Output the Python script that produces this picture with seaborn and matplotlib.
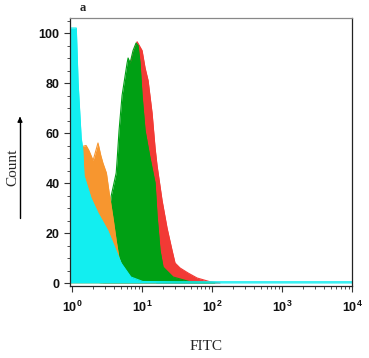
"""
FITC histogram overlay (panel a)
"""

# Libraries
import numpy as np
import seaborn as sns
import matplotlib.pyplot as plt
from matplotlib.ticker import LogLocator, MultipleLocator, FixedLocator

sns.set_theme(style="ticks")
plt.rcParams['font.family'] = ['Liberation Sans', 'DejaVu Sans']
plt.rcParams['mathtext.fontset'] = 'custom'
plt.rcParams['mathtext.rm'] = 'Liberation Sans:bold'
plt.rcParams['mathtext.bf'] = 'Liberation Sans:bold'
plt.rcParams['mathtext.default'] = 'bf'

# ---------------------------------
# Data (log10 of FITC intensity, counts)
# ---------------------------------
cyan_lx = [-0.03, 0.06, 0.086, 0.13, 0.15, 0.17, 0.27, 0.37, 0.51, 0.70,
           0.84, 1.01, 1.5, 2.0, 2.5, 3.0, 3.5, 4.0]
cyan_y = [102, 102, 80, 58, 54, 43, 34, 28, 21, 8,
          2.4, 0.6, 0.5, 0.5, 0.5, 0.5, 0.5, 0.5]

orange_lx = [-0.03, 0.06, 0.13, 0.20, 0.24, 0.30, 0.37, 0.41, 0.44, 0.49,
             0.53, 0.59, 0.63, 0.67, 0.74, 0.87, 1.01, 1.2]
orange_y = [45, 50, 54.5, 55, 53, 49, 56, 51, 48, 44,
            36, 25, 17, 10, 5, 1, 0.3, 0]

green_lx = [0.40, 0.56, 0.63, 0.643, 0.671, 0.714, 0.786, 0.80, 0.829, 0.871,
            0.914, 0.943, 0.971, 1.0, 1.043, 1.114, 1.186, 1.214, 1.257, 1.30,
            1.443, 1.686, 2.04]
green_y = [0, 35, 44, 49, 61, 75, 88, 90, 88, 93,
           96, 95, 88, 75, 61, 50, 40, 27, 13, 6.4,
           2.4, 0.5, 0]

red_lx = [0.45, 0.6, 0.8, 0.929, 1.0, 1.043, 1.086, 1.143, 1.186, 1.214,
          1.286, 1.357, 1.429, 1.471, 1.543, 1.657, 1.786, 1.971, 2.114]
red_y = [0, 30, 85, 96.5, 93, 86, 81, 68, 54, 47,
         33, 22, 13, 8, 6, 4, 2, 0.5, 0]

series = [("red", red_lx, red_y, "#f23a35"),
          ("green", green_lx, green_y, "#00a014"),
          ("orange", orange_lx, orange_y, "#f7962f"),
          ("cyan", cyan_lx, cyan_y, "#12eef0")]

# ---------------------------------
# Plot
# ---------------------------------
f = plt.figure(figsize=(3.69, 3.58), dpi=100)
ax = f.add_axes([70 / 369, 72 / 358, 282 / 369, 268 / 358])

# back to front: each outline sits right above its own fill
for i, (name, lx, y, color) in enumerate(series):
    x = 10 ** np.asarray(lx)
    ax.fill_between(x, 0, y, color=color, linewidth=0, zorder=2 + i)
    sns.lineplot(x=x, y=y, color=color, linewidth=0.8, ax=ax,
                 sort=False, zorder=2.5 + i)

ax.set_xscale('log')
ax.set_xlim(10 ** -0.03, 10 ** 4)
ax.set_ylim(-1.2, 106)

# Ticks
ax.xaxis.set_major_locator(FixedLocator([1, 10, 100, 1000, 10000]))
ax.xaxis.set_minor_locator(LogLocator(base=10, subs=np.arange(2, 10)))
ax.set_xticklabels([r'$10^{0}$', r'$10^{1}$', r'$10^{2}$',
                    r'$10^{3}$', r'$10^{4}$'])
ax.yaxis.set_major_locator(MultipleLocator(20))
ax.yaxis.set_minor_locator(MultipleLocator(5))
ax.tick_params(axis='both', which='major', length=4, width=0.8,
               labelsize=9, color='#333333', labelcolor='#111111',
               direction='out')
ax.tick_params(axis='x', which='major', pad=6)
ax.tick_params(axis='both', which='minor', length=2.5, width=0.6,
               color='#333333', direction='out')
for lbl in ax.get_yticklabels():
    lbl.set_fontweight('bold')

for s in ax.spines.values():
    s.set_linewidth(0.9)
    s.set_color('#222222')
    s.set_zorder(10)
ax.spines['top'].set_color('#888888')
ax.set(xlabel="", ylabel="")

# Labels
f.text(206 / 369, 1 - 347 / 358, "FITC", family='Liberation Serif',
       fontsize=11, ha='center', va='center')
f.text(13 / 369, 1 - 167 / 358, "Count", family='Liberation Serif',
       fontsize=11, rotation=90, ha='center', va='center')
f.text(83 / 369, 1 - 8 / 358, "a", family='Liberation Serif',
       fontsize=9, fontweight='bold', ha='center', va='center')
f.add_artist(plt.Line2D([20 / 369, 20 / 369],
                        [1 - 218 / 358, 1 - 120 / 358],
                        color='black', linewidth=1, transform=f.transFigure))
ax.annotate("", xy=(20 / 369, 1 - 114 / 358),
            xytext=(20 / 369, 1 - 122 / 358),
            xycoords='figure fraction', textcoords='figure fraction',
            arrowprops=dict(arrowstyle='-|>', color='black', lw=1,
                            mutation_scale=7))

f.savefig('out.png', dpi=100)
